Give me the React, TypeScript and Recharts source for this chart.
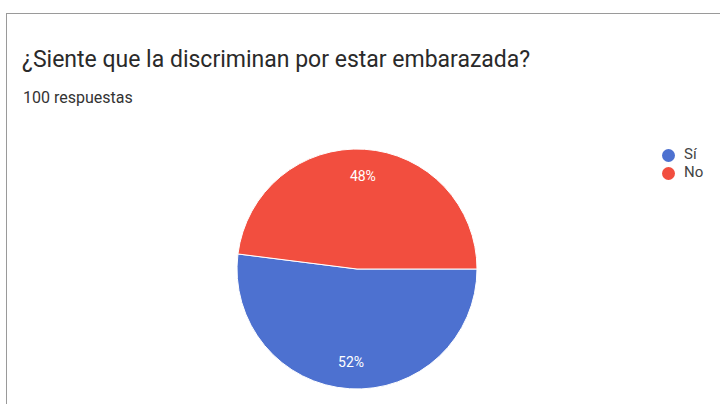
import { Legend, Pie, PieChart, Cell } from 'recharts'

const categorias = ['Sí', 'No']
const respuestas = [52, 48]
const colores = ['#4d71d0', '#f24e3f']

const titulo = '¿Siente que la discriminan por estar embarazada?'
const subtitulo = '100 respuestas'

const datos = categorias.map((nombre, i) => ({ nombre, valor: respuestas[i] }))

const RADIAN = Math.PI / 180

const etiqueta = (props: any) => {
  const { cx, cy, midAngle, outerRadius, percent } = props
  const r = outerRadius * 0.78
  const x = cx + r * Math.cos(-midAngle * RADIAN)
  const y = cy + r * Math.sin(-midAngle * RADIAN)
  return (
    <text
      x={x}
      y={y}
      fill="#ffffff"
      textAnchor="middle"
      dominantBaseline="central"
      fontSize={14}
      fontFamily="Roboto, Arial, sans-serif"
    >
      {`${Math.round(percent * 100)}%`}
    </text>
  )
}

export default function App() {
  return (
    <div
      style={{
        position: 'absolute',
        left: 0,
        top: 0,
        width: 720,
        height: 404,
        background: '#fff',
        fontFamily: 'Roboto, Arial, sans-serif',
        overflow: 'hidden'
      }}
    >
      <div
        style={{
          position: 'absolute',
          left: 6,
          top: 13,
          width: 730,
          height: 420,
          border: '1px solid #9a9a9a'
        }}
      />
      <div
        style={{
          position: 'absolute',
          left: 22,
          top: 46,
          fontSize: 23,
          color: '#2a2a2a',
          whiteSpace: 'nowrap'
        }}
      >
        {titulo}
      </div>
      <div
        style={{
          position: 'absolute',
          left: 23,
          top: 88,
          fontSize: 16,
          color: '#333',
          whiteSpace: 'nowrap'
        }}
      >
        {subtitulo}
      </div>
      <div style={{ position: 'absolute', left: 0, top: 0 }}>
        <PieChart width={720} height={404} margin={{ top: 0, right: 0, bottom: 0, left: 0 }}>
          <Pie
            data={datos}
            dataKey="valor"
            nameKey="nombre"
            cx={357}
            cy={269}
            outerRadius={120}
            startAngle={0}
            endAngle={-360}
            stroke="#ffffff"
            strokeWidth={1}
            label={etiqueta}
            labelLine={false}
            isAnimationActive={false}
          >
            {datos.map((d, i) => (
              <Cell key={d.nombre} fill={colores[i]} />
            ))}
          </Pie>
          <Legend
            layout="vertical"
            align="right"
            verticalAlign="top"
            iconType="circle"
            iconSize={13}
            itemSorter={(item: any) => categorias.indexOf(item.value)}
            wrapperStyle={{ left: 662, top: 145, width: 60, fontSize: 15, lineHeight: '18px' }}
            formatter={(v: string) => (
              <span style={{ color: '#444', paddingLeft: 5 }}>{v}</span>
            )}
          />
        </PieChart>
      </div>
    </div>
  )
}
